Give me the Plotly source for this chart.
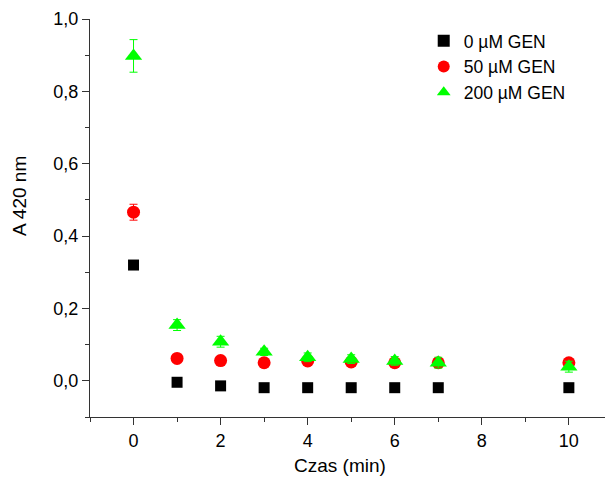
import plotly.graph_objects as go

time = [0, 1, 2, 3, 4, 5, 6, 7, 10]
gen0 = [0.320, -0.004, -0.014, -0.019, -0.019, -0.019, -0.019, -0.019, -0.019]
gen0_err = [0.008, 0.004, 0.004, 0.003, 0.003, 0.003, 0.003, 0.003, 0.003]
gen50 = [0.466, 0.062, 0.056, 0.050, 0.055, 0.052, 0.050, 0.050, 0.050]
gen50_err = [0.022, 0.005, 0.005, 0.005, 0.008, 0.008, 0.008, 0.008, 0.006]
gen200 = [0.898, 0.154, 0.108, 0.080, 0.065, 0.060, 0.055, 0.050, 0.039]
gen200_err = [0.045, 0.015, 0.015, 0.010, 0.012, 0.012, 0.012, 0.015, 0.015]
names = ["0 µM GEN", "50 µM GEN", "200 µM GEN"]
x_title = "Czas (min)"
y_title = "A 420 nm"

fig = go.Figure()
fig.add_trace(go.Scatter(x=time, y=gen0, mode="markers", name=names[0],
    marker=dict(symbol="square", size=11, color="black"),
    error_y=dict(type="data", array=gen0_err, color="black", width=4, thickness=1)))
fig.add_trace(go.Scatter(x=time, y=gen50, mode="markers", name=names[1],
    marker=dict(symbol="circle", size=13, color="#ff0000"),
    error_y=dict(type="data", array=gen50_err, color="#ff0000", width=4, thickness=1)))
fig.add_trace(go.Scatter(x=time, y=gen200, mode="markers", name=names[2],
    marker=dict(symbol="triangle-up", size=15, color="#00ff00"),
    error_y=dict(type="data", array=gen200_err, color="#00ff00", width=4, thickness=1)))

fam = "Liberation Sans, Arial, sans-serif"
tickfont = dict(family=fam, size=18, color="black")
titlefont = dict(family=fam, size=19, color="black")
legendfont = dict(family=fam, size=17.5, color="black")
fig.update_layout(
    width=606, height=479,
    margin=dict(l=90, r=1, t=19, b=62),
    paper_bgcolor="white", plot_bgcolor="white",
    font=tickfont,
    separators=",.",
    showlegend=True,
    legend=dict(x=0.648, y=0.99, xanchor="left", yanchor="top",
                bgcolor="rgba(0,0,0,0)", font=legendfont, tracegroupgap=0,
                itemsizing="constant"),
    xaxis=dict(range=[-1, 10.83], showgrid=False, zeroline=False,
               showline=True, linecolor="#333", linewidth=1,
               tickmode="array", tickvals=[0, 2, 4, 6, 8, 10],
               ticks="outside", ticklen=7, tickcolor="#333", tickfont=tickfont,
               minor=dict(tickvals=[-1, 1, 3, 5, 7, 9], ticks="outside", ticklen=4, tickcolor="#333")),
    yaxis=dict(range=[-0.1, 1.0], showgrid=False, zeroline=False,
               showline=True, linecolor="#333", linewidth=1,
               tickmode="array", tickvals=[0, 0.2, 0.4, 0.6, 0.8, 1.0],
               tickformat=".1f", tickfont=tickfont,
               ticks="outside", ticklen=7, tickcolor="#333",
               minor=dict(tickvals=[-0.1, 0.1, 0.3, 0.5, 0.7, 0.9], ticks="outside", ticklen=4, tickcolor="#333")),
    annotations=[
        dict(text=x_title, xref="paper", yref="paper", x=0.485, y=-0.123,
             xanchor="center", yanchor="middle", showarrow=False, font=titlefont),
        dict(text=y_title, xref="paper", yref="paper", x=-0.138, y=0.555,
             xanchor="center", yanchor="middle", showarrow=False, font=titlefont,
             textangle=-90),
    ],
)
fig.write_html("out.html")
